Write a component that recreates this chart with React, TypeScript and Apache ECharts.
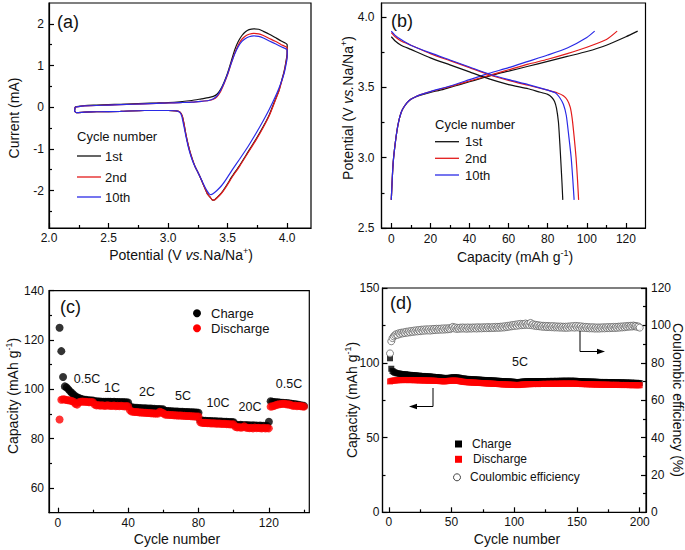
import React, { useEffect, useRef } from "react";
import * as echarts from "echarts";

const FONT = "'Liberation Sans', Arial, Helvetica, sans-serif";
const TXT = "#111";
const BLACK = "#111111";
const RED = "#e31b1b";
const BLUE = "#2a2ae6";
const DOT_RED = "#ff0000";

// ---------- (a) cyclic voltammetry: [potential V, current mA] ----------
const cvCycle1: number[][] = [
  [2.22, 0.01], [2.3, 0.04], [2.4, 0.05], [2.5, 0.06], [2.6, 0.07], [2.7, 0.08], [2.8, 0.09], [2.9, 0.1],
  [3.0, 0.11], [3.1, 0.13], [3.2, 0.16], [3.28, 0.2], [3.34, 0.23], [3.38, 0.26], [3.41, 0.31], [3.44, 0.42],
  [3.47, 0.6], [3.5, 0.82], [3.53, 1.1], [3.56, 1.38], [3.59, 1.58], [3.62, 1.72], [3.65, 1.81], [3.68, 1.86],
  [3.72, 1.88], [3.76, 1.87], [3.8, 1.82], [3.85, 1.75], [3.9, 1.67], [3.95, 1.59], [4.0, 1.5],
  [4.0, 1.3], [3.99, 1.1], [3.975, 0.87], [3.95, 0.6], [3.93, 0.39], [3.9, 0.18], [3.85, -0.18], [3.8, -0.46],
  [3.74, -0.76], [3.67, -1.08], [3.6, -1.4], [3.54, -1.65], [3.49, -1.88], [3.45, -2.05], [3.41, -2.17],
  [3.385, -2.23], [3.37, -2.22], [3.35, -2.15], [3.33, -2.08], [3.31, -1.95], [3.29, -1.82], [3.27, -1.68],
  [3.25, -1.56], [3.23, -1.45], [3.21, -1.3], [3.19, -1.13], [3.17, -0.92], [3.15, -0.66], [3.135, -0.42],
  [3.12, -0.22], [3.1, -0.12], [3.07, -0.09], [3.0, -0.08], [2.8, -0.08], [2.6, -0.1], [2.4, -0.11],
  [2.3, -0.12], [2.23, -0.13], [2.215, -0.09], [2.22, 0.01],
];
const cvCycle2: number[][] = [
  [2.22, 0.0], [2.3, 0.03], [2.5, 0.05], [2.7, 0.07], [2.9, 0.09], [3.0, 0.1], [3.1, 0.11], [3.2, 0.12],
  [3.28, 0.14], [3.34, 0.16], [3.38, 0.19], [3.41, 0.25], [3.44, 0.37], [3.47, 0.56], [3.5, 0.78], [3.53, 1.05],
  [3.56, 1.3], [3.59, 1.5], [3.62, 1.63], [3.65, 1.71], [3.68, 1.75], [3.72, 1.77], [3.76, 1.76], [3.8, 1.72],
  [3.85, 1.65], [3.9, 1.58], [3.95, 1.5], [4.0, 1.42],
  [4.0, 1.25], [3.99, 1.07], [3.975, 0.85], [3.95, 0.58], [3.93, 0.38], [3.9, 0.16], [3.85, -0.2], [3.8, -0.48],
  [3.74, -0.78], [3.67, -1.1], [3.6, -1.42], [3.54, -1.67], [3.49, -1.9], [3.45, -2.06], [3.41, -2.18],
  [3.385, -2.23], [3.37, -2.22], [3.35, -2.15], [3.33, -2.08], [3.31, -1.95], [3.29, -1.82], [3.27, -1.68],
  [3.25, -1.56], [3.23, -1.45], [3.21, -1.3], [3.19, -1.13], [3.17, -0.92], [3.15, -0.66], [3.135, -0.42],
  [3.12, -0.22], [3.1, -0.12], [3.07, -0.09], [3.0, -0.08], [2.8, -0.08], [2.6, -0.1], [2.4, -0.11],
  [2.3, -0.12], [2.23, -0.13], [2.215, -0.09], [2.22, 0.0],
];
const cvCycle10: number[][] = [
  [2.22, 0.0], [2.3, 0.03], [2.5, 0.05], [2.7, 0.07], [2.9, 0.09], [3.0, 0.1], [3.1, 0.11], [3.2, 0.12],
  [3.28, 0.14], [3.34, 0.16], [3.38, 0.2], [3.41, 0.27], [3.44, 0.4], [3.47, 0.58], [3.5, 0.8], [3.53, 1.05],
  [3.56, 1.28], [3.59, 1.46], [3.62, 1.58], [3.65, 1.65], [3.68, 1.69], [3.72, 1.71], [3.76, 1.7], [3.8, 1.66],
  [3.85, 1.59], [3.9, 1.52], [3.95, 1.45], [4.0, 1.37],
  [4.0, 1.2], [3.99, 1.02], [3.975, 0.82], [3.95, 0.6], [3.93, 0.45], [3.9, 0.25], [3.85, -0.05], [3.8, -0.32],
  [3.74, -0.62], [3.67, -0.95], [3.6, -1.25], [3.54, -1.5], [3.49, -1.72], [3.45, -1.88], [3.41, -2.0],
  [3.38, -2.07], [3.36, -2.1], [3.345, -2.08], [3.33, -2.02], [3.31, -1.92], [3.29, -1.8], [3.27, -1.68],
  [3.25, -1.56], [3.23, -1.45], [3.21, -1.32], [3.19, -1.16], [3.17, -0.96], [3.15, -0.7], [3.13, -0.42],
  [3.115, -0.22], [3.1, -0.13], [3.07, -0.09], [3.0, -0.08], [2.8, -0.08], [2.6, -0.1], [2.4, -0.11],
  [2.3, -0.12], [2.23, -0.13], [2.215, -0.09], [2.22, 0.0],
];

// ---------- (b) charge / discharge profiles: [capacity mAh/g, potential V] ----------
const charge1st: number[][] = [
  [0, 2.7], [0.5, 2.85], [1, 2.97], [2, 3.1], [3, 3.2], [4, 3.27], [5, 3.32], [6, 3.35], [8, 3.39], [10, 3.415],
  [12, 3.43], [15, 3.445], [20, 3.465], [25, 3.48], [30, 3.5], [35, 3.52], [40, 3.54], [45, 3.56], [50, 3.58],
  [55, 3.6], [60, 3.615], [70, 3.65], [80, 3.685], [90, 3.72], [100, 3.755], [110, 3.8], [120, 3.86], [126, 3.9],
];
const charge2nd: number[][] = [
  [0, 2.7], [0.5, 2.85], [1, 2.97], [2, 3.1], [3, 3.2], [4, 3.27], [5, 3.32], [6, 3.35], [8, 3.39], [10, 3.415],
  [12, 3.43], [15, 3.448], [20, 3.47], [30, 3.505], [40, 3.545], [50, 3.585], [60, 3.625], [70, 3.665],
  [80, 3.7], [90, 3.74], [100, 3.785], [110, 3.84], [115.5, 3.9],
];
const charge10th: number[][] = [
  [0, 2.7], [0.5, 2.85], [1, 2.97], [2, 3.1], [3, 3.2], [4, 3.27], [5, 3.32], [6, 3.35], [8, 3.39], [10, 3.415],
  [12, 3.43], [15, 3.448], [20, 3.47], [30, 3.51], [40, 3.555], [50, 3.6], [60, 3.64], [70, 3.685],
  [80, 3.73], [90, 3.78], [100, 3.855], [104, 3.9],
];
const discharge1st: number[][] = [
  [0, 3.86], [2, 3.83], [5, 3.8], [10, 3.77], [20, 3.71], [30, 3.66], [40, 3.61], [50, 3.56], [60, 3.52],
  [70, 3.49], [75, 3.47], [80, 3.45], [82, 3.43], [83.5, 3.4], [84.5, 3.35], [85.5, 3.25], [86.2, 3.1],
  [86.8, 2.95], [87.3, 2.82], [87.7, 2.7],
];
const discharge2nd: number[][] = [
  [0, 3.89], [2, 3.86], [5, 3.83], [10, 3.8], [20, 3.74], [30, 3.69], [40, 3.64], [50, 3.59], [60, 3.55],
  [70, 3.515], [80, 3.48], [85, 3.46], [88, 3.44], [90, 3.41], [91.5, 3.36], [92.5, 3.28], [93.5, 3.15],
  [94.5, 3.0], [95.2, 2.85], [95.8, 2.7],
];
const discharge10th: number[][] = [
  [0, 3.9], [2, 3.87], [5, 3.84], [10, 3.8], [20, 3.745], [30, 3.695], [40, 3.645], [50, 3.595], [60, 3.555],
  [70, 3.52], [80, 3.48], [84, 3.46], [86, 3.43], [88, 3.38], [89.5, 3.3], [90.8, 3.15], [92, 3.0],
  [92.8, 2.85], [93.5, 2.7],
];

// ---------- (c) rate performance, cycles 1..140 ----------
const rateCharge: number[] = [
  125, 115.5, 105, 101.2, 100.8, 100, 99.2, 98.5, 97.8, 97.2,
  96.8, 96.5, 96.2, 96, 95.8, 95.8, 95.6, 95.6, 95.5, 95.5,
  95.2, 95.2, 95.1, 95.1, 95, 95, 95, 95, 95, 95,
  94.9, 95, 94.9, 94.9, 94.9, 94.8, 94.9, 94.8, 94.8, 94.7,
  93, 92.7, 92.6, 92.5, 92.5, 92.4, 92.4, 92.3, 92.3, 92.3,
  92.2, 92.2, 92.2, 92.1, 92.1, 92, 92, 92, 91.9, 91.9,
  91.3, 91.2, 91.2, 91.1, 91.1, 91, 91, 91, 90.9, 90.9,
  90.9, 90.8, 90.8, 90.8, 90.7, 90.7, 90.7, 90.6, 90.6, 90.5,
  87.5, 87.4, 87.3, 87.3, 87.2, 87.2, 87.2, 87.1, 87.1, 87.1,
  87, 87, 87, 86.9, 86.9, 86.9, 86.8, 86.8, 86.8, 86.7,
  85.6, 85.5, 85.5, 85.6, 85.5, 85.4, 85.5, 85.4, 85.4, 85.3,
  85.4, 85.3, 85.3, 85.2, 85.3, 85.2, 85.2, 85.1, 85.2, 86.9,
  95.2, 95, 94.9, 94.8, 94.8, 94.7, 94.6, 94.6, 94.5, 94.5,
  94.4, 94.3, 94.2, 94.1, 94, 93.8, 93.7, 93.5, 93.4, 93.3,
];
const rateDischarge: number[] = [
  87.8, 95.8, 96, 95.9, 95.7, 95.6, 95.5, 95.3, 95, 94.2,
  93.8, 94.8, 95, 95.1, 95, 95, 94.9, 94.8, 94.9, 94.8,
  93.8, 93.5, 93.6, 93.4, 93.5, 93.4, 93.3, 93.5, 93.4, 93.3,
  93.3, 93.4, 93.2, 93.3, 93.2, 93.3, 93.2, 93.1, 93.2, 93.1,
  91.5, 91, 90.9, 90.8, 90.8, 90.7, 90.6, 90.6, 90.5, 90.5,
  90.4, 90.4, 90.3, 90.3, 90.2, 90.2, 90.2, 90.9, 90.6, 90.3,
  89.8, 89.7, 89.7, 89.6, 89.6, 89.5, 89.5, 89.4, 89.4, 89.4,
  89.3, 89.3, 89.2, 89.2, 89.2, 89.1, 89.1, 89, 89, 89,
  86.7, 86.5, 86.4, 86.4, 86.3, 86.3, 86.2, 86.2, 86.2, 86.1,
  86.1, 86.1, 86, 86, 86, 85.9, 85.9, 85.8, 85.8, 85.8,
  84.8, 84.6, 84.7, 84.5, 84.6, 85, 84.5, 84.4, 84.3, 84.4,
  84.2, 84.5, 84.3, 84.4, 84.3, 84.2, 84.4, 84.2, 84.3, 84.2,
  93, 93.1, 93.3, 93.6, 93.8, 94, 94.1, 94.2, 94.2, 94,
  93.9, 93.8, 93.5, 93.3, 93.4, 93.2, 93.3, 93.2, 93.1, 93,
];
const rateLabels = ["0.5C", "1C", "2C", "5C", "10C", "20C", "0.5C"];

// ---------- (d) long cycling at 5C, cycles 1..200 ----------
const longCharge: number[] = [
  103, 96, 94.5, 93.8, 93.4, 93.1, 92.9, 92.8, 92.6, 92.5,
  92.4, 92.2, 92.3, 92.1, 92, 91.9, 91.9, 91.7, 91.8, 91.6,
  91.5, 91.5, 91.3, 91.4, 91.2, 91.1, 91.2, 91, 91, 90.9,
  90.9, 90.8, 90.8, 90.6, 90.7, 90.5, 90.4, 90.5, 90.3, 90.2,
  90.1, 90, 89.9, 89.9, 89.8, 89.7, 89.8, 89.9, 90, 90.1,
  90.2, 90.3, 90.2, 90.3, 90.1, 90, 89.8, 89.6, 89.5, 89.4,
  89.3, 89.2, 89.2, 89.1, 89, 89, 88.9, 88.9, 88.8, 88.8,
  88.7, 88.7, 88.6, 88.6, 88.5, 88.5, 88.4, 88.4, 88.3, 88.3,
  88.2, 88.2, 88.1, 88.1, 88, 88, 87.9, 87.9, 87.8, 87.8,
  87.7, 87.7, 87.6, 87.6, 87.5, 87.5, 87.4, 87.4, 87.3, 87.2,
  87.1, 87, 87, 87.1, 87.2, 87.3, 87.4, 87.5, 87.5, 87.6,
  87.6, 87.7, 87.7, 87.6, 87.6, 87.7, 87.7, 87.8, 87.7, 87.7,
  87.8, 87.7, 87.8, 87.8, 87.7, 87.8, 87.8, 87.9, 87.8, 87.8,
  87.9, 87.8, 87.9, 87.9, 87.8, 87.9, 87.9, 88, 87.9, 87.9,
  88, 87.9, 88, 87.9, 88, 87.9, 87.9, 88, 87.9, 87.8,
  87.8, 87.7, 87.7, 87.6, 87.6, 87.5, 87.5, 87.4, 87.5, 87.4,
  87.4, 87.3, 87.4, 87.3, 87.3, 87.2, 87.2, 87.2, 87.1, 87.1,
  87.1, 87.2, 87.1, 87.1, 87, 87, 87.1, 87, 86.9, 86.9,
  87, 86.9, 86.9, 86.8, 86.9, 86.8, 86.8, 86.7, 86.8, 86.7,
  86.7, 86.6, 86.7, 86.6, 86.6, 86.5, 86.6, 86.5, 86.5, 86.4,
];
const longDischarge: number[] = [
  87.5, 87.8, 88, 88.1, 88.2, 88.3, 88.3, 88.4, 88.4, 88.4,
  88.5, 88.4, 88.5, 88.4, 88.5, 88.4, 88.4, 88.5, 88.4, 88.4,
  88.3, 88.4, 88.3, 88.3, 88.2, 88.3, 88.2, 88.2, 88.1, 88.2,
  88.1, 88.1, 88, 88.1, 88, 88, 87.9, 87.9, 87.8, 87.8,
  87.7, 87.7, 87.6, 87.6, 87.6, 87.7, 87.8, 87.9, 88, 88,
  88.1, 88, 88.1, 88, 87.9, 87.8, 87.6, 87.4, 87.3, 87.2,
  87.1, 87, 87, 86.9, 86.9, 86.8, 86.8, 86.7, 86.7, 86.6,
  86.6, 86.5, 86.5, 86.4, 86.4, 86.3, 86.3, 86.2, 86.2, 86.1,
  86.1, 86, 86, 85.9, 85.9, 85.8, 85.8, 85.7, 85.7, 85.6,
  85.6, 85.5, 85.5, 85.5, 85.4, 85.4, 85.3, 85.3, 85.3, 85.2,
  85.2, 85.1, 85.1, 85.2, 85.3, 85.4, 85.5, 85.5, 85.6, 85.6,
  85.7, 85.7, 85.7, 85.8, 85.7, 85.8, 85.8, 85.8, 85.7, 85.8,
  85.8, 85.9, 85.8, 85.9, 85.9, 85.8, 85.9, 86, 85.9, 85.9,
  86, 85.9, 86, 86, 85.9, 86, 86, 86.1, 86, 86,
  86.1, 86, 86.1, 86, 86.1, 86, 86, 86.1, 86, 85.9,
  85.9, 85.8, 85.8, 85.7, 85.8, 85.7, 85.7, 85.6, 85.7, 85.6,
  85.6, 85.5, 85.6, 85.5, 85.5, 85.4, 85.5, 85.4, 85.4, 85.3,
  85.4, 85.3, 85.4, 85.3, 85.3, 85.2, 85.3, 85.2, 85.2, 85.2,
  85.3, 85.2, 85.2, 85.1, 85.2, 85.1, 85.1, 85.1, 85.2, 85.1,
  85.1, 85, 85.1, 85, 85, 85.1, 85, 85, 84.9, 85,
];
const longCE: number[] = [
  85, 91.5, 93.2, 94.1, 94.8, 95.3, 94.9, 95.8, 95.4, 96.1,
  95.7, 96.3, 95.9, 96.6, 96.1, 96.8, 96.3, 97, 96.5, 97.2,
  96.7, 97.4, 96.8, 97.5, 96.9, 97.7, 97.1, 97.8, 97.2, 97.9,
  97.3, 97.9, 97.2, 98, 97.4, 98.1, 97.5, 98.2, 97.6, 98.2,
  97.7, 98.3, 97.7, 98.4, 97.8, 98.4, 97.9, 98.5, 98, 98.6,
  99.2, 98.4, 98.9, 98.1, 98.7, 98.2, 98.8, 98.3, 98.9, 98.3,
  98.8, 98.2, 98.9, 98.3, 98.8, 98.3, 98.9, 98.4, 98.9, 98.3,
  99, 98.4, 98.9, 98.4, 99, 98.5, 99, 98.5, 99.1, 98.5,
  99, 98.6, 99.1, 98.6, 99.2, 98.7, 99.2, 98.7, 99.3, 98.8,
  99.4, 98.9, 99.6, 99.1, 99.8, 99.3, 100, 99.5, 100.2, 99.7,
  100.4, 99.8, 100.6, 100, 100.8, 100.1, 100.7, 100.2, 101, 100.3,
  100.8, 100.2, 101.3, 100.1, 100.6, 99.8, 100.3, 99.6, 100.1, 99.5,
  99.9, 99.3, 99.8, 99.2, 99.7, 99.1, 99.7, 99.1, 99.6, 99,
  99.6, 98.9, 99.5, 98.9, 99.4, 98.8, 99.4, 98.8, 99.3, 98.7,
  99.3, 98.7, 99.4, 98.8, 99.5, 98.9, 99.6, 98.8, 99.7, 98.9,
  99.6, 98.8, 99.5, 98.7, 99.3, 98.6, 99.2, 98.5, 99.1, 98.4,
  99, 98.4, 99, 98.3, 98.9, 98.3, 98.9, 98.3, 98.9, 98.4,
  99, 98.4, 99, 98.5, 99.1, 98.5, 99.1, 98.6, 99.2, 98.6,
  99.2, 98.7, 99.3, 98.8, 99.4, 98.9, 99.5, 99, 99.6, 99.2,
  99.7, 99.3, 99.8, 99.4, 99.9, 99.5, 99.7, 99.2, 99.4, 98.8,
];

// ---------- tick values ----------
const aXMajor = [2.0, 2.5, 3.0, 3.5, 4.0];
const aXMinor = [2.25, 2.75, 3.25, 3.75];
const aYMajor = [-2, -1, 0, 1, 2];
const aYMinor = [-2.5, -1.5, -0.5, 0.5, 1.5];
const bXMajor = [0, 20, 40, 60, 80, 100, 120];
const bXMinor = [10, 30, 50, 70, 90, 110];
const bYMajor = [2.5, 3.0, 3.5, 4.0];
const bYMinor = [2.75, 3.25, 3.75];
const cXMajor = [0, 40, 80, 120];
const cXMinor = [20, 60, 100, 140];
const cYMajor = [60, 80, 100, 120, 140];
const cYMinor = [70, 90, 110, 130];
const dXMajor = [0, 50, 100, 150, 200];
const dXMinor = [25, 75, 125, 175];
const dYLMajor = [0, 50, 100, 150];
const dYLMinor = [25, 75, 125];
const dYRMajor = [0, 20, 40, 60, 80, 100, 120];
const dYRMinor = [10, 30, 50, 70, 90, 110];

type AxOpt = {
  grid: number; min: number; max: number; majors: number[]; minors: number[];
  pos: string; margin: number; fmt?: (v: number) => string;
};
function axisPair(o: AxOpt) {
  const base: any = {
    type: "value", gridIndex: o.grid, min: o.min, max: o.max, position: o.pos,
    splitLine: { show: false }, splitArea: { show: false },
  };
  const main = {
    ...base,
    axisLine: { show: true, onZero: false, lineStyle: { color: "#000", width: 1.2 } },
    axisTick: { show: true, inside: true, length: 5, customValues: o.majors, lineStyle: { color: "#000", width: 1.2 } },
    axisLabel: {
      show: true, customValues: o.majors, margin: o.margin, color: TXT, fontSize: 12, fontFamily: FONT,
      formatter: o.fmt ? (v: number) => o.fmt!(v) : (v: number) => String(v),
    },
  };
  const minor = {
    ...base,
    axisLine: { show: false, onZero: false },
    axisTick: { show: true, inside: true, length: 3, customValues: o.minors, lineStyle: { color: "#000", width: 1.2 } },
    axisLabel: { show: false },
  };
  return [main, minor];
}

const fix1 = (v: number) => v.toFixed(1);

const richBase = {
  n: { fontSize: 14, fontFamily: FONT, fill: TXT, lineHeight: 18 },
  i: { fontSize: 14, fontFamily: FONT, fill: TXT, fontStyle: "italic", lineHeight: 18 },
  s: { fontSize: 9, fontFamily: FONT, fill: TXT, verticalAlign: "top" },
};

function label(x: number, y: number, text: string, size: number, align = "left", rotation = 0, extra: any = {}) {
  return {
    type: "text", x, y, rotation, silent: true, z: 50,
    style: {
      text, fontSize: size, fontFamily: FONT, fill: TXT, align, verticalAlign: "middle",
      rich: richBase, ...extra,
    },
  };
}
function seg(x1: number, y1: number, x2: number, y2: number, color: string) {
  return { type: "line", silent: true, z: 50, shape: { x1, y1, x2, y2 }, style: { stroke: color, lineWidth: 1.3 } };
}

const potentialName = "{n|Potential (V }{i|vs.}{n|Na/Na}{s|+}{n|)}";
const capacityName = "{n|Capacity (mAh g}{s|-1}{n|)}";

const xa = axisPair({ grid: 0, min: 2.0, max: 4.2, majors: aXMajor, minors: aXMinor, pos: "bottom", margin: 4, fmt: fix1 });
const ya = axisPair({ grid: 0, min: -2.9, max: 2.5, majors: aYMajor, minors: aYMinor, pos: "left", margin: 5 });
const xb = axisPair({ grid: 1, min: -5, max: 130, majors: bXMajor, minors: bXMinor, pos: "bottom", margin: 5 });
const yb = axisPair({ grid: 1, min: 2.5, max: 4.1, majors: bYMajor, minors: bYMinor, pos: "left", margin: 7, fmt: fix1 });
const xc = axisPair({ grid: 2, min: -5, max: 143, majors: cXMajor, minors: cXMinor, pos: "bottom", margin: 4 });
const yc = axisPair({ grid: 2, min: 50, max: 140, majors: cYMajor, minors: cYMinor, pos: "left", margin: 5 });
const xd = axisPair({ grid: 3, min: -5, max: 205, majors: dXMajor, minors: dXMinor, pos: "bottom", margin: 4 });
const ydl = axisPair({ grid: 3, min: 0, max: 150, majors: dYLMajor, minors: dYLMinor, pos: "left", margin: 3 });
const ydr = axisPair({ grid: 3, min: 0, max: 120, majors: dYRMajor, minors: dYRMinor, pos: "right", margin: 5 });

const lineSeries = (name: string, data: number[][], color: string, axis: number) => ({
  type: "line", name, data, xAxisIndex: axis, yAxisIndex: axis, showSymbol: false, symbol: "none",
  smooth: 0.2, lineStyle: { color, width: 1.2 }, z: 3,
});

const gridStyle = { show: true, borderColor: "#000", borderWidth: 1.2, backgroundColor: "transparent", containLabel: false, outerBoundsMode: "none" };

const option: any = {
  animation: false,
  backgroundColor: "#fff",
  textStyle: { fontFamily: FONT },
  grid: [
    { ...gridStyle, left: 49, top: 3, width: 262, height: 225 },
    { ...gridStyle, left: 381.5, top: 3, width: 264, height: 225 },
    { ...gridStyle, left: 49, top: 290.7, width: 260.3, height: 222 },
    { ...gridStyle, left: 382.5, top: 288, width: 263.5, height: 224.3 },
  ],
  xAxis: [xa[0], xb[0], xc[0], xd[0], xa[1], xb[1], xc[1], xd[1]],
  yAxis: [ya[0], yb[0], yc[0], ydl[0], ydr[0], ya[1], yb[1], yc[1], ydl[1], ydr[1]],
  series: [
    lineSeries("1st cycle CV", cvCycle1, BLACK, 0),
    lineSeries("2nd cycle CV", cvCycle2, RED, 0),
    lineSeries("10th cycle CV", cvCycle10, BLUE, 0),
    lineSeries("1st charge", charge1st, BLACK, 1),
    lineSeries("2nd charge", charge2nd, RED, 1),
    lineSeries("10th charge", charge10th, BLUE, 1),
    lineSeries("1st discharge", discharge1st, BLACK, 1),
    lineSeries("2nd discharge", discharge2nd, RED, 1),
    lineSeries("10th discharge", discharge10th, BLUE, 1),
    {
      type: "scatter", name: "Charge (rate)", xAxisIndex: 2, yAxisIndex: 2, symbol: "circle", symbolSize: 8,
      data: rateCharge.map((v, i) => [i + 1, v]), itemStyle: { color: "#000" }, z: 3,
    },
    {
      type: "scatter", name: "Discharge (rate)", xAxisIndex: 2, yAxisIndex: 2, symbol: "circle", symbolSize: 8,
      data: rateDischarge.map((v, i) => [i + 1, v]), itemStyle: { color: DOT_RED }, z: 4,
    },
    {
      type: "scatter", name: "Charge (5C)", xAxisIndex: 3, yAxisIndex: 3, symbol: "rect", symbolSize: 6,
      data: longCharge.map((v, i) => [i + 1, v]), itemStyle: { color: "#000" }, z: 3,
    },
    {
      type: "scatter", name: "Discharge (5C)", xAxisIndex: 3, yAxisIndex: 3, symbol: "rect", symbolSize: 6,
      data: longDischarge.map((v, i) => [i + 1, v]), itemStyle: { color: DOT_RED }, z: 4,
    },
    {
      type: "scatter", name: "Coulombic efficiency", xAxisIndex: 3, yAxisIndex: 4, symbol: "circle", symbolSize: 7,
      data: longCE.map((v, i) => [i + 1, v]), itemStyle: { color: "#fff", borderColor: "#555", borderWidth: 0.9 }, z: 5,
    },
  ],
  graphic: [
    // panel letters
    label(57, 22, "(a)", 18),
    label(391, 21, "(b)", 18),
    label(60, 307, "(c)", 18),
    label(390, 303, "(d)", 18),
    // axis titles
    label(14, 118, "{n|Current (mA)}", 14, "center", Math.PI / 2),
    label(181, 255, potentialName, 14, "center"),
    label(348, 108, potentialName, 14, "center", Math.PI / 2),
    label(515, 257, capacityName, 14, "center"),
    label(13, 396, capacityName, 14, "center", Math.PI / 2),
    label(177, 539, "{n|Cycle number}", 14, "center"),
    label(352, 400, capacityName, 14, "center", Math.PI / 2),
    label(678, 400, "{n|Coulombic efficiency (%)}", 14, "center", -Math.PI / 2),
    label(517, 539, "{n|Cycle number}", 14, "center"),
    // legend (a)
    label(77, 136, "Cycle number", 13),
    seg(77, 156, 101, 156, BLACK), label(105, 156, "1st", 13),
    seg(77, 177, 101, 177, RED), label(105, 177, "2nd", 13),
    seg(77, 197, 101, 197, BLUE), label(105, 197, "10th", 13),
    // legend (b)
    label(435, 124.5, "Cycle number", 13),
    seg(435, 141.7, 459, 141.7, BLACK), label(465, 141.7, "1st", 13),
    seg(435, 158.3, 459, 158.3, RED), label(465, 158.3, "2nd", 13),
    seg(435, 175, 459, 175, BLUE), label(465, 175, "10th", 13),
    // legend (c)
    { type: "circle", silent: true, z: 50, shape: { cx: 197, cy: 313.3, r: 4 }, style: { fill: "#000" } },
    label(211, 313.3, "Charge", 13),
    { type: "circle", silent: true, z: 50, shape: { cx: 197, cy: 328.3, r: 4 }, style: { fill: DOT_RED } },
    label(211, 328.3, "Discharge", 13),
    // rate labels (c)
    label(87, 379, rateLabels[0], 12.5, "center"),
    label(112, 388, rateLabels[1], 12.5, "center"),
    label(147, 392, rateLabels[2], 12.5, "center"),
    label(183, 396, rateLabels[3], 12.5, "center"),
    label(218, 403, rateLabels[4], 12.5, "center"),
    label(250, 407, rateLabels[5], 12.5, "center"),
    label(289, 384, rateLabels[6], 12.5, "center"),
    // (d) annotation
    label(520, 362, "5C", 12.5, "center"),
    { type: "polyline", silent: true, z: 50, shape: { points: [[580, 331], [580, 351.5], [598, 351.5]] }, style: { stroke: "#000", lineWidth: 1, fill: null } },
    { type: "polygon", silent: true, z: 50, shape: { points: [[605, 351.5], [597, 348.8], [597, 354.2]] }, style: { fill: "#000" } },
    { type: "polyline", silent: true, z: 50, shape: { points: [[433, 388], [433, 406.5], [416, 406.5]] }, style: { stroke: "#000", lineWidth: 1, fill: null } },
    { type: "polygon", silent: true, z: 50, shape: { points: [[409, 406.5], [417, 403.8], [417, 409.2]] }, style: { fill: "#000" } },
    // legend (d)
    { type: "rect", silent: true, z: 50, shape: { x: 455, y: 440.5, width: 7, height: 7 }, style: { fill: "#000" } },
    label(472, 444, "Charge", 12),
    { type: "rect", silent: true, z: 50, shape: { x: 455, y: 455.8, width: 7, height: 7 }, style: { fill: DOT_RED } },
    label(473, 459.3, "Discharge", 12),
    { type: "circle", silent: true, z: 50, shape: { cx: 457, cy: 477.3, r: 3.5 }, style: { fill: "#fff", stroke: "#444", lineWidth: 1 } },
    label(470, 477.3, "Coulombic efficiency", 12),
  ],
};

export default function App() {
  const ref = useRef<HTMLDivElement>(null);
  useEffect(() => {
    if (!ref.current) return;
    const chart = echarts.init(ref.current, null, { renderer: "svg", width: 685, height: 550 });
    chart.setOption(option);
    return () => chart.dispose();
  }, []);
  return (
    <div
      ref={ref}
      style={{ position: "absolute", left: 0, top: 0, width: 685, height: 550, background: "#fff" }}
    />
  );
}
